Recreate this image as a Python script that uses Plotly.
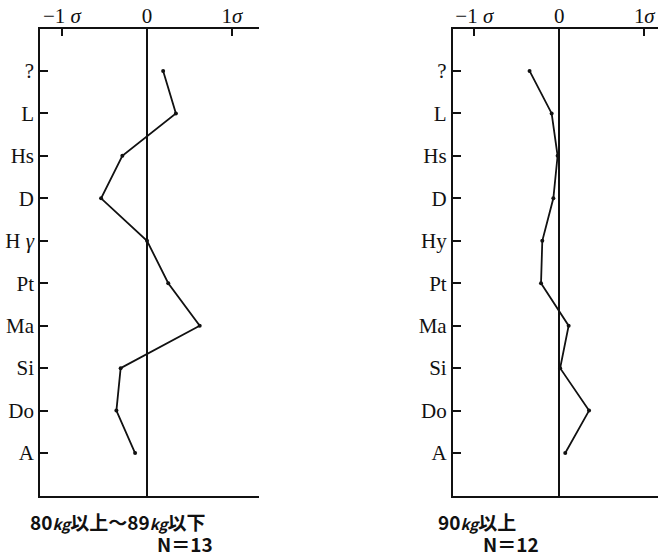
import plotly.graph_objects as go

W, H = 658, 553

cats_left = ["?", "L", "Hs", "D", "H <i>γ</i>", "Pt", "Ma", "Si", "Do", "A"]
cats_right = ["?", "L", "Hs", "D", "Hy", "Pt", "Ma", "Si", "Do", "A"]
vals_left = [0.19, 0.34, -0.29, -0.54, 0.0, 0.25, 0.62, -0.31, -0.36, -0.14]
vals_right = [-0.35, -0.09, -0.02, -0.07, -0.20, -0.215, 0.11, 0.01, 0.35, 0.07]
xtick_vals = [-1, 0, 1]
xtick_text = ["−1 <i>σ</i>", "0", "1<i>σ</i>"]

SERIF = "Liberation Serif, Times New Roman, serif"
INK = "#111111"

fig = go.Figure()
fig.add_trace(go.Scatter(x=vals_left, y=cats_left, mode="lines+markers",
                         line=dict(color=INK, width=1.8),
                         marker=dict(size=4, color=INK),
                         xaxis="x", yaxis="y", showlegend=False))
fig.add_trace(go.Scatter(x=vals_right, y=cats_right, mode="lines+markers",
                         line=dict(color=INK, width=1.8),
                         marker=dict(size=4, color=INK),
                         xaxis="x2", yaxis="y2", showlegend=False))

ydom = [(H - 495.5) / H, (H - 28.5) / H]

def xax(domain, rng, anchor):
    return dict(domain=domain, range=rng, side="top", anchor=anchor,
                automargin=False,
                showline=True, mirror=True, linecolor=INK, linewidth=1.6,
                ticks="inside", ticklen=8, tickwidth=1.5, tickcolor=INK,
                ticklabelstandoff=-5,
                tickvals=xtick_vals, ticktext=xtick_text,
                zeroline=True, zerolinecolor=INK, zerolinewidth=1.5,
                showgrid=False, tickfont=dict(family=SERIF, size=21, color=INK))

def yax(domain, cats, anchor):
    return dict(domain=domain, type="category", categoryorder="array",
                categoryarray=cats, range=[10, -1], anchor=anchor,
                automargin=False,
                showline=True, mirror=False, linecolor=INK, linewidth=1.6,
                ticks="inside", ticklen=8, tickwidth=1.5, tickcolor=INK,
                showgrid=False, zeroline=False,
                tickfont=dict(family=SERIF, size=21, color=INK))

fig.update_layout(
    width=W, height=H,
    margin=dict(l=0, r=0, t=0, b=0),
    paper_bgcolor="white", plot_bgcolor="white",
    xaxis=xax([40 / W, 259 / W], [-(147 - 40) / 85, (259 - 147) / 85], "y"),
    yaxis=yax(ydom, cats_left, "x"),
    xaxis2=xax([452.7 / W, 1.0], [-(559.3 - 452.7) / 85, (658 - 559.3) / 85], "y2"),
    yaxis2=yax(ydom, cats_right, "x2"),
)

CJK = "Noto Sans CJK JP"
kg = "<i><span style='font-size:15px'>kg</span></i>"
ann = [
    dict(text=f"80{kg}以上～89{kg}以下", x=28 / W, y=(H - 521) / H, xanchor="left"),
    dict(text="N＝13", x=215 / W, y=(H - 543) / H, xanchor="right"),
    dict(text=f"90{kg}以上", x=436 / W, y=(H - 521) / H, xanchor="left"),
    dict(text="N＝12", x=481 / W, y=(H - 543) / H, xanchor="left"),
]
for a in ann:
    fig.add_annotation(xref="paper", yref="paper", yanchor="middle",
                       showarrow=False,
                       font=dict(family=CJK, size=19, color=INK, weight="bold"), **a)

fig.write_html("out.html", config={"displayModeBar": False},
               post_script="document.body.style.margin='0px';document.body.style.overflow='hidden';")
